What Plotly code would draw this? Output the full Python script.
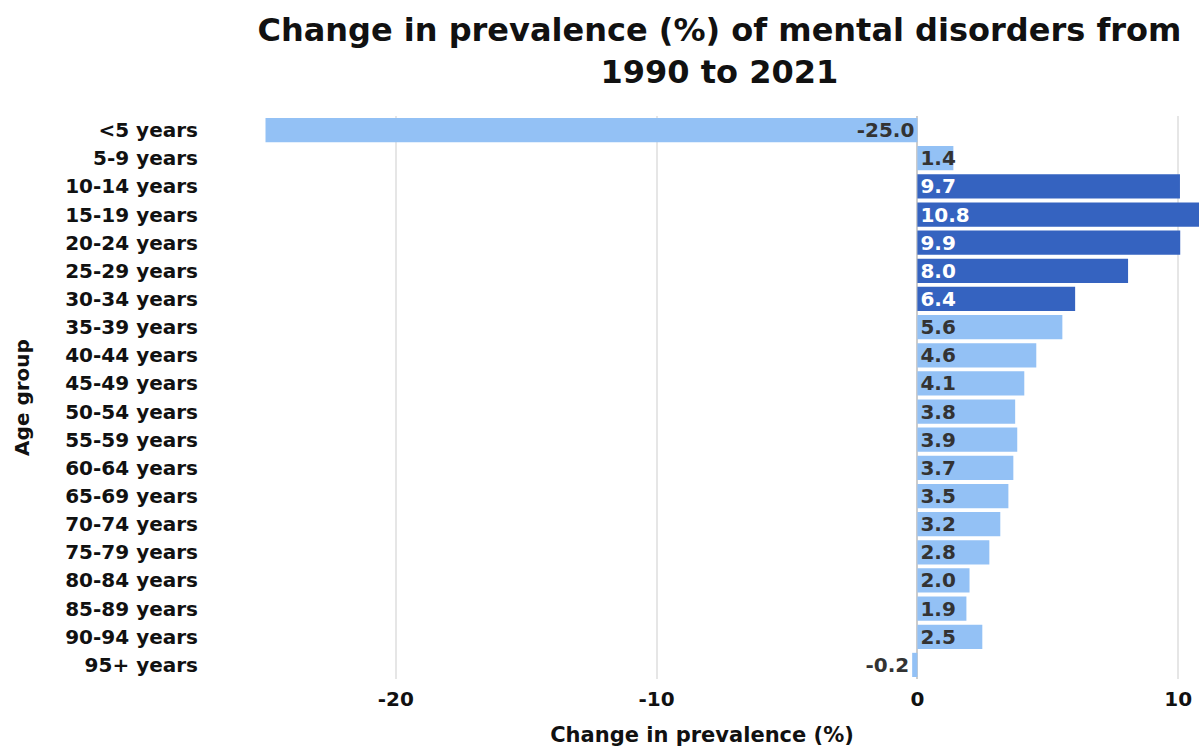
import plotly.graph_objects as go

age_groups = ["<5 years", "5-9 years", "10-14 years", "15-19 years", "20-24 years",
              "25-29 years", "30-34 years", "35-39 years", "40-44 years", "45-49 years",
              "50-54 years", "55-59 years", "60-64 years", "65-69 years", "70-74 years",
              "75-79 years", "80-84 years", "85-89 years", "90-94 years", "95+ years"]
# labelled values
change_labels = [-25.0, 1.4, 9.7, 10.8, 9.9, 8.0, 6.4, 5.6, 4.6, 4.1,
                 3.8, 3.9, 3.7, 3.5, 3.2, 2.8, 2.0, 1.9, 2.5, -0.2]
# bar lengths as drawn in the picture
bar_lengths = [-25.0, 1.38, 10.07, 10.8, 10.08, 8.08, 6.05, 5.56, 4.56, 4.1,
               3.75, 3.83, 3.68, 3.49, 3.18, 2.76, 2.0, 1.88, 2.49, -0.2]
highlight = [False, False, True, True, True, True, True, False, False, False,
             False, False, False, False, False, False, False, False, False, False]
x_ticks = [-20, -10, 0, 10]
x_tick_text = ["-20", "-10", "0", "10"]

DARK = "#3563C0"
LIGHT = "#93C1F5"
FONT = "DejaVu Sans"
INK = "#111111"

colors = [DARK if h else LIGHT for h in highlight]
text_colors = ["white" if h else "#333333" for h in highlight]
positions = ["outside" if abs(v) < 1 else "inside" for v in bar_lengths]

fig = go.Figure(go.Bar(
    y=age_groups,
    x=bar_lengths,
    orientation="h",
    marker=dict(color=colors, line=dict(width=0)),
    text=[f"{v:.1f}" for v in change_labels],
    textposition=positions,
    insidetextanchor="start",
    constraintext="none",
    cliponaxis=False,
    textfont=dict(family=FONT, size=20, weight=700, color=text_colors),
    outsidetextfont=dict(family=FONT, size=20, weight=700, color="#333333"),
    insidetextfont=dict(family=FONT, size=20, weight=700, color=text_colors),
))

fig.update_layout(
    width=1199, height=747,
    margin=dict(l=205, r=0, t=116, b=68),
    paper_bgcolor="white", plot_bgcolor="white",
    bargap=0.14,
    showlegend=False,
    title=dict(
        text="Change in prevalence (%) of mental disorders from<br>1990 to 2021",
        x=0.6, xanchor="center", xref="container",
        y=0.945, yanchor="top", yref="container",
        font=dict(family=FONT, size=32, weight=700, color=INK),
    ),
    xaxis=dict(
        range=[-27.32, 10.8],
        tickvals=x_ticks, ticktext=x_tick_text,
        showgrid=True, gridcolor="#E6E6E6", gridwidth=2,
        zeroline=True, zerolinecolor="#CCCCCC", zerolinewidth=2,
        tickfont=dict(family=FONT, size=20, weight=700, color=INK),
        ticks="", ticklabelstandoff=6,
        title=dict(text="Change in prevalence (%)", standoff=17,
                   font=dict(family=FONT, size=21, weight=700, color=INK)),
    ),
    yaxis=dict(
        autorange="reversed",
        showgrid=False,
        tickfont=dict(family=FONT, size=20, weight=700, color=INK),
        ticks="", ticklabelstandoff=6,
        title=dict(text="Age group", standoff=30,
                   font=dict(family=FONT, size=20, weight=700, color=INK)),
    ),
)

fig.write_html("out.html")
